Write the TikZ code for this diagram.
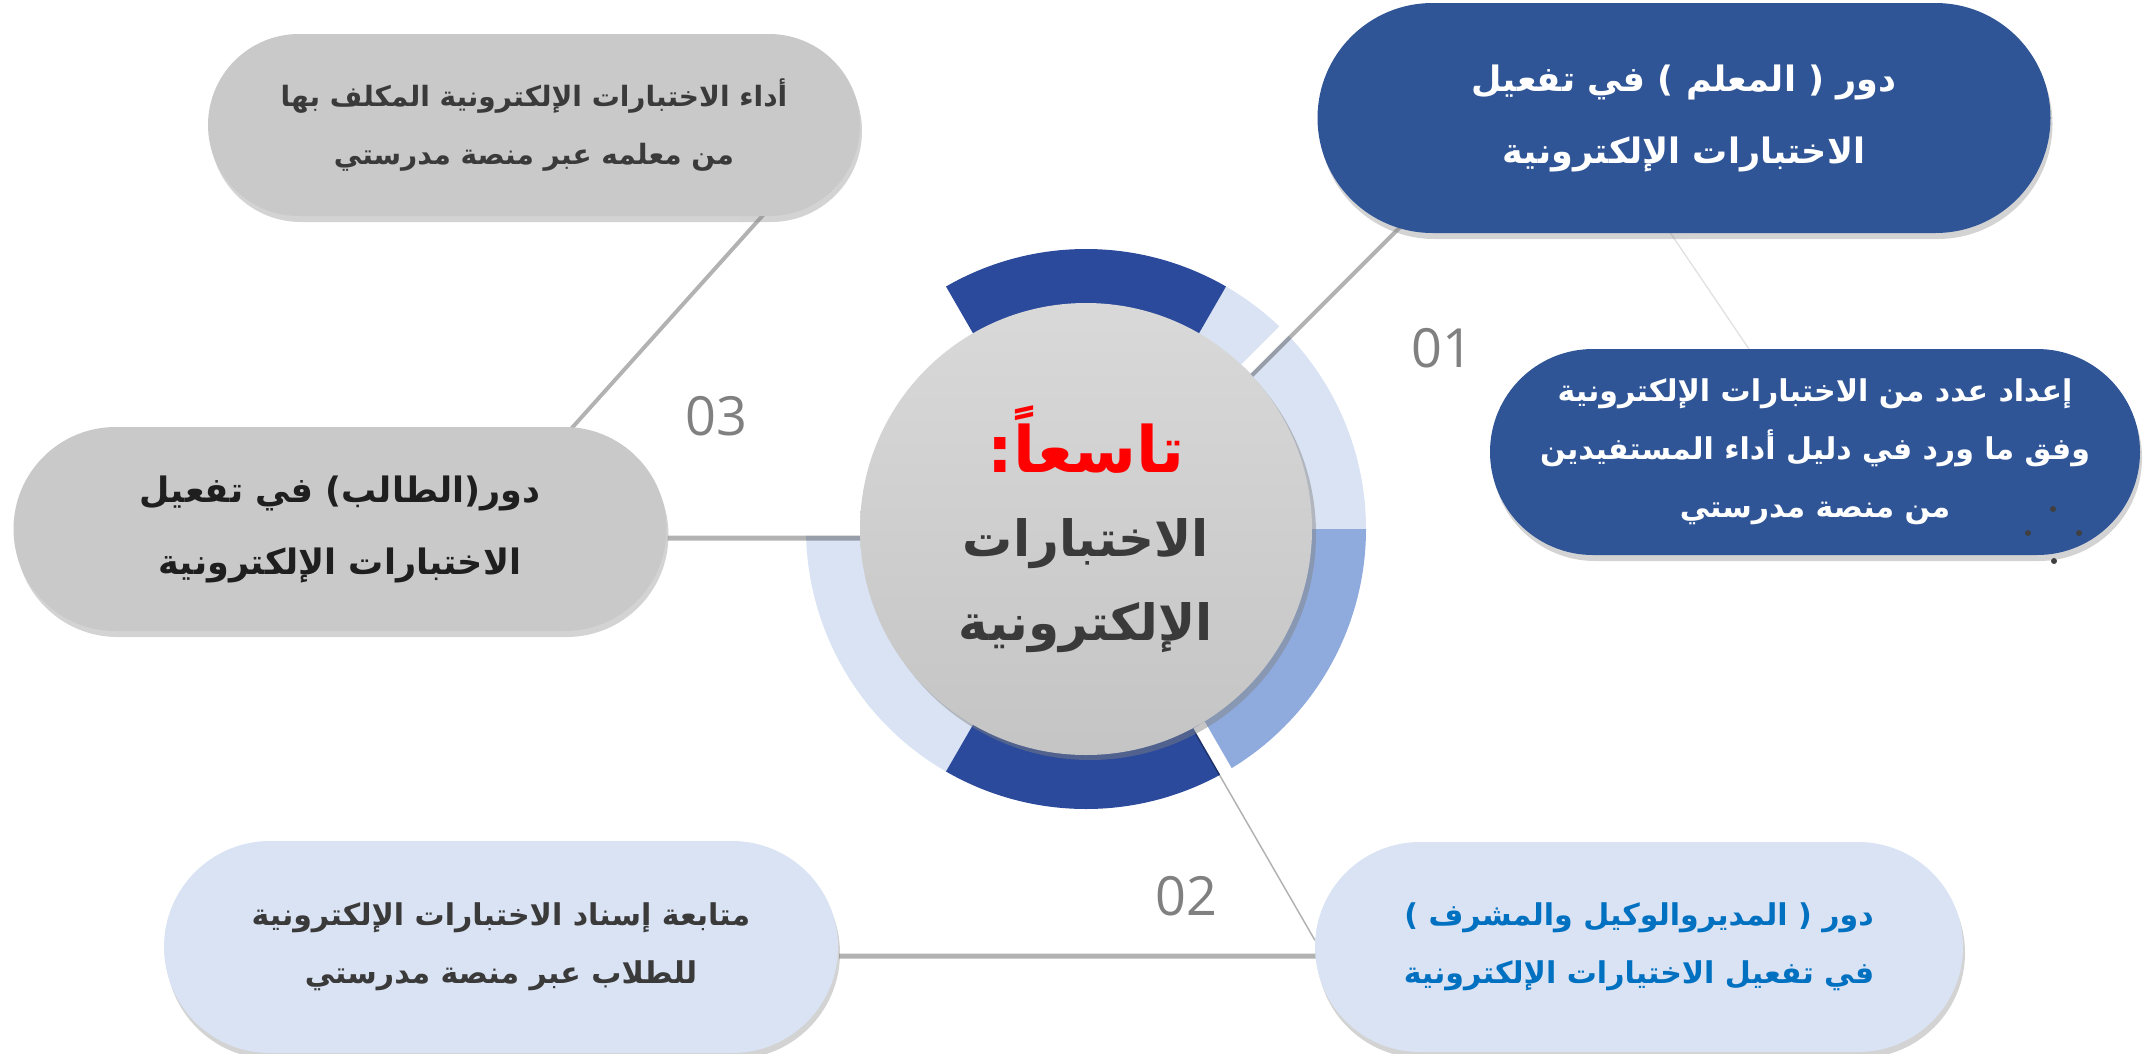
\documentclass[tikz,border=0pt]{standalone}
\usepackage{fontspec}
\usetikzlibrary{shapes.misc, shadows, calc, backgrounds}
\TeXXeTstate=1
\newfontfamily\arfont[Script=Arabic]{DejaVu Sans}
\newfontfamily\numfont{Open Sans}
\newcommand{\artext}[1]{\beginR#1\endR}

\definecolor{teachblue}{HTML}{2F5597}
\definecolor{ringdark}{HTML}{2C4A9B}
\definecolor{ringlight}{HTML}{DAE3F3}
\definecolor{ringmid}{HTML}{8FAADC}
\definecolor{pillgray}{HTML}{C9C9C9}
\definecolor{pilllight}{HTML}{DAE3F3}
\definecolor{txtblue}{HTML}{0070C0}
\definecolor{txtgray}{HTML}{3A3A3A}
\definecolor{numgray}{HTML}{808080}

\tikzset{
	pill/.style={rounded rectangle, inner sep=0pt, align=center,
		drop shadow={shadow xshift=2pt, shadow yshift=-6pt, opacity=.35}},
	bigtext/.style={font=\arfont\bfseries\fontsize{35}{72}\selectfont},
	smalltext/.style={font=\arfont\bfseries\fontsize{30}{58}\selectfont},
	link/.style={line width=13pt, white,
		preaction={draw=black, line width=13pt, opacity=.3,
			transform canvas={shift={(1pt,-5pt)}}}},
	faintlink/.style={line width=10pt, white,
		preaction={draw=black, line width=10pt, opacity=.12,
			transform canvas={shift={(1pt,-4pt)}}}},
	num/.style={font=\numfont\fontsize{54}{60}\selectfont, text=numgray}
}

\begin{document}
\begin{tikzpicture}[x=1pt, y=-1pt]
\useasboundingbox (0,0) rectangle (2148,1053);
\coordinate (c) at (1086,529);

%========================
% hub
%========================
\node[circle, inner sep=0pt, minimum size=452pt, align=center,
	top color=black!15, bottom color=black!23,
	drop shadow={shadow xshift=4pt, shadow yshift=-5pt, opacity=.45},
	font=\arfont\bfseries\fontsize{50}{84}\selectfont] (hub) at (c) {
	{\color{red}\fontsize{64}{84}\selectfont\artext{تاسعاً:}}\\
	{\color{txtgray}\artext{الاختبارات}}\\
	{\color{txtgray}\artext{الإلكترونية}}};

%========================
% 01: teacher
%========================
\node[pill, fill=teachblue, text=white, bigtext,
	minimum width=733pt, minimum height=230pt] (teach) at (1684,118) {
	\artext{دور ( المعلم ) في تفعيل}\\
	\artext{الاختبارات الإلكترونية}};
\node[pill, fill=teachblue, text=white, smalltext,
	minimum width=650pt, minimum height=206pt] (teachdo) at (1815,452) {
	\artext{إعداد عدد من الاختبارات الإلكترونية}\\
	\artext{وفق ما ورد في دليل أداء المستفيدين}\\
	\artext{من منصة مدرستي}};
% stray dots
\foreach \p in {(2053,509),(2028,533),(2079,533),(2054,561)}
	\fill[black!75] \p circle (3pt);

%========================
% 02: principal
%========================
\node[pill, fill=pilllight, text=txtblue, smalltext,
	minimum width=648pt, minimum height=210pt] (mgr) at (1639,947) {
	\artext{دور ( المديروالوكيل والمشرف )}\\
	\artext{في تفعيل الاختيارات الإلكترونية}};
\node[pill, fill=pilllight, text=txtgray, smalltext,
	minimum width=674pt, minimum height=212pt] (mgrdo) at (501,947) {
	\artext{متابعة إسناد الاختبارات الإلكترونية}\\
	\artext{للطلاب عبر منصة مدرستي}};

%========================
% 03: student
%========================
\node[pill, fill=pillgray, text=black!88, bigtext,
	minimum width=653pt, minimum height=204pt] (stud) at (340,529) {
	\artext{دور(الطالب) في تفعيل}\\
	\artext{الاختبارات الإلكترونية}};
\node[pill, fill=pillgray, text=txtgray,
	font=\arfont\bfseries\fontsize{28}{58}\selectfont,
	minimum width=652pt, minimum height=182pt] (studdo) at (534,125) {
	\artext{أداء الاختبارات الإلكترونية المكلف بها}\\
	\artext{من معلمه عبر منصة مدرستي}};

% numbers
\node[num] (n1) at (1442,348) {01};
\node[num] (n2) at (1186,896) {02};
\node[num] (n3) at (716,416) {03};

% free ends of connectors
\coordinate (t1) at (1415,200);
\coordinate (m1) at ($(c)+(-60:475pt)$);
\coordinate (a1) at (1672,225);
\coordinate (a2) at (1760,355);
\coordinate (s1) at (545,445);
\coordinate (s2) at (765,200);

\begin{scope}[on background layer]
	% ring
	\fill[ringlight] (c) -- ++(0:280pt) arc[start angle=0, end angle=60, radius=280pt] -- cycle;
	\fill[ringdark] (c) -- ++(60:280pt) arc[start angle=60, end angle=120, radius=280pt] -- cycle;
	\fill[ringlight] (c) -- ++(180:280pt) arc[start angle=180, end angle=240, radius=280pt] -- cycle;
	\fill[ringdark] (c) -- ++(240:280pt) arc[start angle=240, end angle=300, radius=280pt] -- cycle;
	\fill[ringmid] (c) -- ++(300:280pt) arc[start angle=300, end angle=360, radius=280pt] -- cycle;
	% connectors
	\draw[link] (hub) -- (t1);
	\draw[link] (hub) -- (m1);
	\draw[link] (stud) -- (hub);
	\draw[link] (mgrdo) -- (mgr);
	\draw[link] (s1) -- (s2);
	\draw[faintlink] (a1) -- (a2);
\end{scope}
\end{tikzpicture}
\end{document}
